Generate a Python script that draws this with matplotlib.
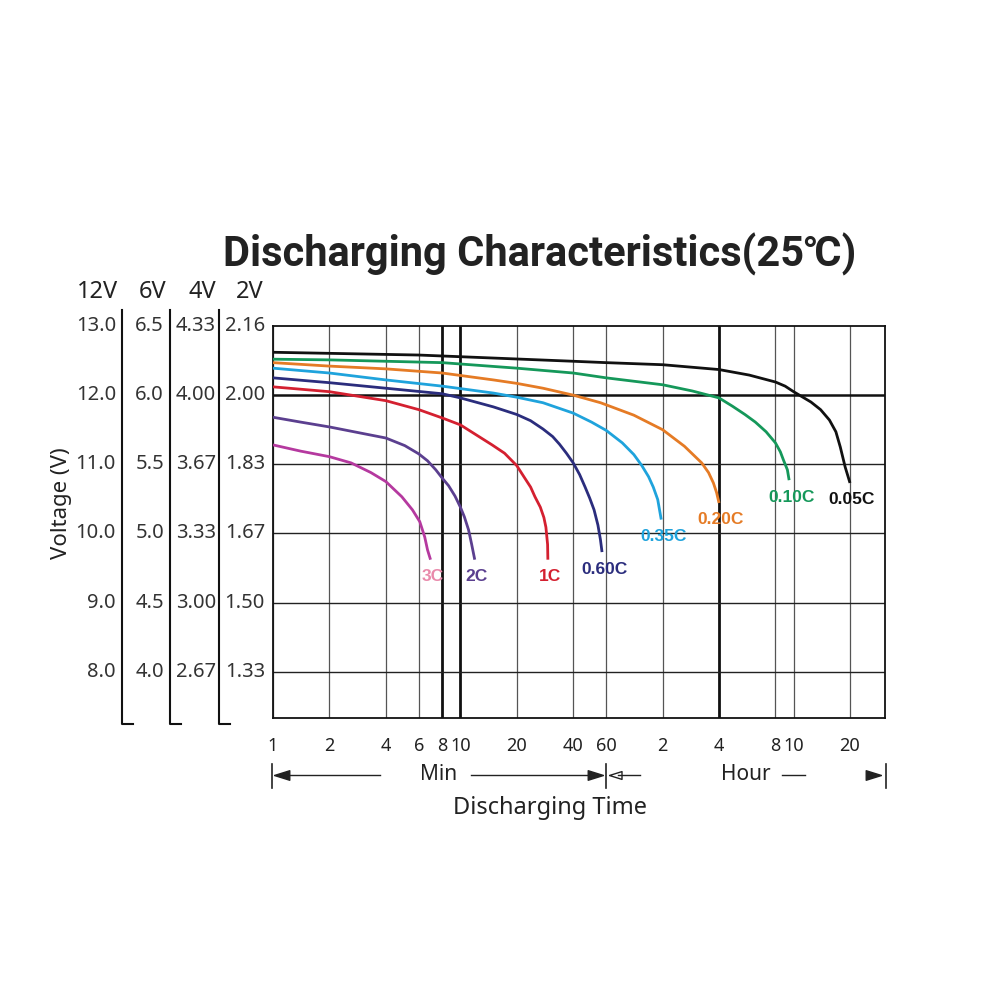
import numpy as np
import matplotlib
matplotlib.use("Agg")
import matplotlib.pyplot as plt
from matplotlib.lines import Line2D
from matplotlib.ticker import NullLocator
from matplotlib.transforms import blended_transform_factory

plt.rcParams['font.family'] = ['Noto Sans', 'DejaVu Sans']

# discharge curves: time in minutes, voltage on the 12V scale
t_3c = [1, 1.405, 2, 2.61, 3.33, 4, 4.87, 5.55, 6.07, 6.45, 6.68, 6.93]
v_3c = [11.28, 11.19, 11.11, 11.02, 10.88, 10.75, 10.53, 10.34, 10.17, 9.95, 9.76, 9.62]

t_2c = [1, 1.405, 2, 2.95, 4, 5.05, 6, 6.68, 7.39, 8, 8.65, 9.36, 10, 10.5, 11.06, 11.49, 11.93]
v_2c = [11.68, 11.61, 11.54, 11.45, 11.38, 11.27, 11.15, 11.05, 10.92, 10.80, 10.69, 10.54,
        10.38, 10.24, 10.05, 9.84, 9.62]

t_1c = [1, 2, 4, 6, 8, 10, 14.77, 17.2, 20, 21.7, 23.7, 25.0, 26.7, 27.9, 28.6, 29.2, 29.3]
v_1c = [12.12, 12.05, 11.92, 11.79, 11.67, 11.57, 11.28, 11.16, 10.98, 10.83, 10.67, 10.53,
        10.38, 10.23, 10.09, 9.84, 9.62]

t_060 = [1, 2, 4, 8, 10, 15, 20, 23.7, 27.6, 31.1, 33.8, 36.8, 40, 43.3, 46.3, 49.0, 51.7,
         54.2, 55.9, 57]
v_060 = [12.25, 12.18, 12.10, 12.02, 11.96, 11.83, 11.72, 11.63, 11.51, 11.40, 11.29, 11.16,
         11.02, 10.85, 10.67, 10.51, 10.34, 10.12, 9.91, 9.73]

t_035 = [1, 2, 4, 8, 15, 20, 27.6, 40, 50.1, 60, 73.1, 84.3, 93, 101, 107, 113, 118]
v_035 = [12.39, 12.32, 12.22, 12.13, 12.03, 11.97, 11.89, 11.74, 11.61, 11.49, 11.31, 11.14,
         10.98, 10.82, 10.67, 10.49, 10.20]

t_020 = [1, 2, 4, 8, 15, 20, 27.6, 40, 56, 84.3, 120, 157, 194, 211, 224, 233, 240]
v_020 = [12.47, 12.42, 12.38, 12.32, 12.22, 12.17, 12.10, 12.0, 11.89, 11.71, 11.50, 11.26,
         11.02, 10.88, 10.73, 10.59, 10.44]

t_010 = [1, 2, 8, 20, 40, 60, 120, 173, 240, 283, 330, 375, 428, 480, 510, 530, 556, 568]
v_010 = [12.52, 12.51, 12.47, 12.39, 12.32, 12.25, 12.15, 12.06, 11.96, 11.84, 11.72, 11.61,
         11.47, 11.31, 11.18, 11.06, 10.92, 10.77]

t_005 = [1, 6, 40, 60, 120, 240, 348, 480, 541, 600, 743, 836, 932, 1009, 1065, 1131, 1200]
v_005 = [12.62, 12.58, 12.49, 12.47, 12.44, 12.37, 12.29, 12.19, 12.13, 12.05, 11.90, 11.79,
         11.64, 11.47, 11.25, 10.96, 10.73]

curves = [
    (t_3c, v_3c, '#b5399f', '3C', '#e98aab'),
    (t_2c, v_2c, '#5b3f8f', '2C', '#5b3f8f'),
    (t_1c, v_1c, '#d42030', '1C', '#d42030'),
    (t_060, v_060, '#2b2d7d', '0.60C', '#2b2d7d'),
    (t_035, v_035, '#1fa3dc', '0.35C', '#1fa3dc'),
    (t_020, v_020, '#e57b25', '0.20C', '#e57b25'),
    (t_010, v_010, '#15985a', '0.10C', '#15985a'),
    (t_005, v_005, '#111111', '0.05C', '#111111'),
]

# x ticks (minutes) and their labels
tick_min = [1, 2, 4, 6, 8, 10, 20, 40, 60, 120, 240, 480, 600, 1200]
tick_lab = ['1', '2', '4', '6', '8', '10', '20', '40', '60', '2', '4', '8', '10', '20']
thick_x = [8, 10, 240]

# voltage rows for the 4 battery scales
v12 = [13.0, 12.0, 11.0, 10.0, 9.0, 8.0]
v6 = ['6.5', '6.0', '5.5', '5.0', '4.5', '4.0']
v4 = ['4.33', '4.00', '3.67', '3.33', '3.00', '2.67']
v2 = ['2.16', '2.00', '1.83', '1.67', '1.50', '1.33']

fig = plt.figure(figsize=(10, 10), dpi=100)
ax = fig.add_axes([0.273, 0.282, 0.612, 0.392])
ax.set_xscale('log')
ax.set_xlim(1, 1845)
ax.set_ylim(7.33, 13.0)

# grid
for t in tick_min:
    if t in thick_x:
        ax.axvline(t, color='#111', lw=2.0, zorder=1)
    else:
        ax.axvline(t, color='#555', lw=0.9, zorder=1)
for v in v12[1:]:
    if v == 12.0:
        ax.axhline(v, color='#111', lw=1.8, zorder=1)
    else:
        ax.axhline(v, color='#222', lw=1.0, zorder=1)
for s in ax.spines.values():
    s.set_linewidth(1.3)
    s.set_color('#111')

for t, v, c, lab, lc in curves:
    ax.plot(t, v, color=c, lw=2.0, zorder=3, solid_capstyle='butt', solid_joinstyle='round')
    ax.annotate(lab, (t[-1], v[-1]), xytext=(2, -17), textcoords='offset pixels',
                ha='center', va='center', color=lc, fontsize=12.5, fontweight='bold',
                family=['Liberation Sans'])

ax.set_xticks(tick_min, tick_lab)
ax.xaxis.set_minor_locator(NullLocator())
ax.tick_params(axis='x', length=0, pad=14, labelsize=13, labelcolor='#222')
ax.set_yticks([])

# left voltage columns
tr = blended_transform_factory(fig.transFigure, ax.transData)
for i, v in enumerate(v12):
    fig.text(0.116, v, f'{v:.1f}', transform=tr, ha='right', va='center', fontsize=14.5, color='#333')
    fig.text(0.164, v, v6[i], transform=tr, ha='right', va='center', fontsize=14.5, color='#333')
    fig.text(0.216, v, v4[i], transform=tr, ha='right', va='center', fontsize=14.5, color='#333')
    fig.text(0.265, v, v2[i], transform=tr, ha='right', va='center', fontsize=14.5, color='#333')

for x, h in [(0.097, '12V'), (0.153, '6V'), (0.202, '4V'), (0.250, '2V')]:
    fig.text(x, 1 - 0.292, h, ha='center', va='center', fontsize=17, color='#222')

for x in [0.122, 0.170, 0.219]:
    fig.add_artist(Line2D([x, x, x + 0.011], [1 - 0.310, 1 - 0.724, 1 - 0.724],
                          color='#111', lw=1.5, transform=fig.transFigure))

fig.text(0.062, 1 - 0.503, 'Voltage (V)', rotation=90, ha='center', va='center',
         fontsize=16, color='#222')

fig.text(0.540, 1 - 0.254, 'Discharging Characteristics(25℃)', ha='center', va='center',
         fontsize=30, fontweight='bold', color='#222', family=['Roboto', 'DejaVu Sans'])

# bottom time range indicator
yr = 1 - 0.775
def hline(x0, x1, lw=1.0):
    fig.add_artist(Line2D([x0, x1], [yr, yr], color='#222', lw=lw, transform=fig.transFigure))

def vbar(x):
    fig.add_artist(Line2D([x, x], [1 - 0.764, 1 - 0.788], color='#222', lw=1.2,
                          transform=fig.transFigure))

def head(x, direction, filled=True, size=22):
    if direction == 'left':
        m = [(0, 0), (3.2, 1), (3.2, -1), (0, 0)]
    else:
        m = [(0, 0), (-3.2, 1), (-3.2, -1), (0, 0)]
    fig.add_artist(Line2D([x], [yr], marker=m, markersize=size, color='#222',
                          markerfacecolor='#222' if filled else 'white',
                          markeredgewidth=1.0, transform=fig.transFigure))

vbar(0.272)
head(0.274, 'left')
hline(0.285, 0.380)
fig.text(0.439, yr, 'Min', ha='center', va='center', fontsize=15, color='#222')
hline(0.471, 0.592)
head(0.603, 'right')
vbar(0.606)
head(0.609, 'left', filled=False, size=18)
hline(0.618, 0.640)
fig.text(0.746, yr, 'Hour', ha='center', va='center', fontsize=15, color='#222')
hline(0.782, 0.805)
head(0.881, 'right')
vbar(0.886)

fig.text(0.550, 1 - 0.808, 'Discharging Time', ha='center', va='center', fontsize=17, color='#222')

fig.savefig('out.png', dpi=100, facecolor='white')
